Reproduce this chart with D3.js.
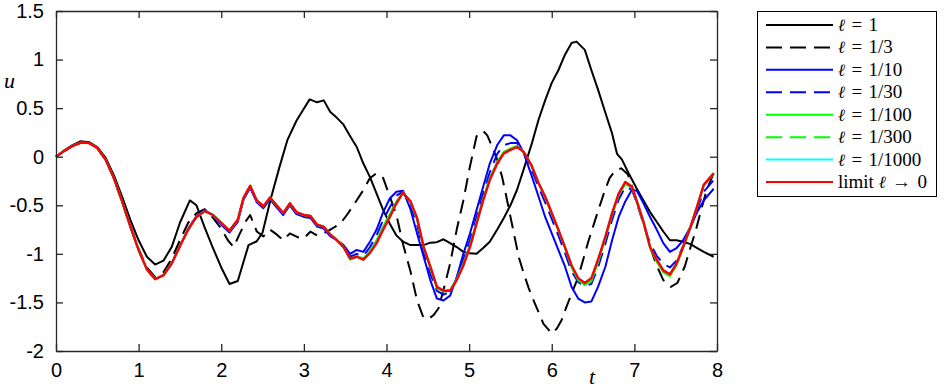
<!DOCTYPE html>
<html>
<head>
<meta charset="utf-8">
<script src="https://cdn.jsdelivr.net/npm/d3@7"></script>
<style>
  html, body { margin: 0; padding: 0; background: #fff; }
  svg { display: block; }
  .tick text { font-family: "Liberation Sans", Arial, Helvetica, sans-serif; font-size: 20px; fill: #000; }
  .legend text { font-family: "Liberation Serif", "DejaVu Serif", serif; font-size: 19px; }
</style>
</head>
<body>
<svg id="chart" width="945" height="388"></svg>
<script>
// time nodes for the l = 1 curve
var tL1 = [0,0.1,0.2,0.3,0.4,0.5,0.6,0.7,0.8,0.9,1.0,1.1,1.2,1.3,1.4,1.5,1.62,1.7,1.8,1.9,
  2.0,2.1,2.2,2.33,2.43,2.5,2.6,2.7,2.8,2.91,2.99,3.07,3.16,3.24,3.32,3.4,3.48,3.56,3.64,3.72,3.8,3.88,3.96,
  4.04,4.12,4.2,4.29,4.37,4.45,4.53,4.61,4.69,4.77,4.85,4.93,5.01,5.09,5.17,5.25,5.34,5.42,5.5,5.58,5.66,5.76,5.84,5.92,
  6.0,6.08,6.16,6.24,6.3,6.4,6.48,6.56,6.65,6.73,6.79,6.85,6.93,7.03,7.11,7.19,7.27,7.35,7.43,7.51,7.59,7.68,7.76,7.84,7.96];
var uL1 = [0,0.065,0.12,0.16,0.15,0.1,-0.01,-0.19,-0.41,-0.65,-0.86,-1.03,-1.11,-1.07,-0.93,-0.68,-0.45,-0.5,-0.73,-0.94,
  -1.14,-1.31,-1.28,-0.91,-0.87,-0.78,-0.43,-0.12,0.17,0.37,0.48,0.59,0.56,0.58,0.46,0.4,0.33,0.21,0.1,-0.07,-0.21,-0.38,-0.55,
  -0.69,-0.81,-0.875,-0.91,-0.91,-0.91,-0.885,-0.88,-0.85,-0.89,-0.93,-0.98,-0.995,-1.0,-0.94,-0.875,-0.75,-0.63,-0.5,-0.34,-0.13,0.14,0.38,0.58,
  0.76,0.89,1.05,1.17,1.185,1.1,0.89,0.69,0.45,0.24,0.03,-0.03,-0.17,-0.33,-0.45,-0.57,-0.67,-0.77,-0.86,-0.86,-0.875,-0.9,-0.94,-0.98,-1.03];

// time nodes for the l = 1/3 curve
var tL3 = [0,0.1,0.2,0.3,0.4,0.5,0.6,0.7,0.8,0.9,1.0,1.1,1.2,1.3,1.4,1.5,1.6,1.7,1.8,1.9,
  2.0,2.08,2.15,2.22,2.3,2.35,2.43,2.51,2.59,2.67,2.75,2.83,2.93,
  3.0,3.08,3.16,3.24,3.32,3.44,3.52,3.6,3.7,3.8,3.88,3.96,
  4.04,4.12,4.2,4.29,4.37,4.44,4.5,4.57,4.63,4.69,4.77,4.85,4.93,
  5.01,5.09,5.17,5.22,5.28,5.34,5.4,5.46,5.52,5.6,5.66,5.72,5.8,5.9,
  6.0,6.06,6.12,6.18,6.24,6.32,6.38,6.44,6.5,6.56,6.63,6.7,6.77,6.84,6.92,
  7.0,7.09,7.19,7.27,7.35,7.44,7.52,7.61,7.68,7.74,7.82,7.88,7.96];
var uL3 = [0,0.06,0.11,0.145,0.14,0.09,-0.03,-0.22,-0.46,-0.71,-0.95,-1.14,-1.24,-1.19,-1.05,-0.86,-0.68,-0.58,-0.54,-0.63,
  -0.74,-0.86,-0.93,-0.8,-0.66,-0.6,-0.77,-0.82,-0.75,-0.8,-0.86,-0.79,-0.83,
  -0.84,-0.77,-0.81,-0.79,-0.75,-0.69,-0.6,-0.5,-0.37,-0.22,-0.17,-0.22,
  -0.41,-0.6,-0.9,-1.18,-1.48,-1.64,-1.675,-1.63,-1.56,-1.37,-1.1,-0.75,-0.45,
  -0.1,0.21,0.265,0.22,0.1,-0.03,-0.21,-0.45,-0.7,-1.03,-1.2,-1.35,-1.52,-1.72,
  -1.82,-1.77,-1.68,-1.54,-1.41,-1.24,-1.06,-0.88,-0.72,-0.56,-0.38,-0.22,-0.14,-0.12,-0.18,
  -0.38,-0.62,-0.93,-1.12,-1.27,-1.34,-1.3,-1.13,-0.93,-0.77,-0.51,-0.33,-0.17];

// shared time nodes for the small-l curves and the limit
var tFine = [0,0.1,0.2,0.3,0.4,0.5,0.6,0.7,0.8,0.9,
  1.0,1.1,1.2,1.3,1.4,1.5,1.6,1.7,1.8,1.9,
  2.0,2.1,2.2,2.27,2.35,2.43,2.51,2.59,2.67,2.75,2.83,2.91,
  3.0,3.08,3.16,3.24,3.32,3.4,3.48,3.56,3.64,3.72,3.8,3.88,3.96,
  4.04,4.12,4.2,4.29,4.37,4.45,4.53,4.61,4.69,4.77,4.85,4.93,
  5.01,5.09,5.17,5.25,5.34,5.42,5.5,5.58,5.66,5.75,5.84,5.92,
  6.0,6.08,6.16,6.24,6.32,6.4,6.48,6.56,6.65,6.73,6.81,6.89,6.97,
  7.03,7.11,7.19,7.27,7.35,7.43,7.51,7.59,7.68,7.76,7.84,7.96];

var uL10 = [0,0.06,0.11,0.145,0.14,0.09,-0.03,-0.22,-0.46,-0.72,
  -0.96,-1.16,-1.26,-1.22,-1.1,-0.92,-0.74,-0.61,-0.55,-0.6,
  -0.7,-0.78,-0.67,-0.44,-0.32,-0.47,-0.53,-0.44,-0.52,-0.6,-0.5,-0.59,
  -0.62,-0.63,-0.72,-0.74,-0.82,-0.86,-0.91,-1.0,-0.96,-0.98,-0.875,-0.75,-0.57,
  -0.43,-0.36,-0.35,-0.54,-0.79,-1.03,-1.27,-1.46,-1.48,-1.43,-1.24,-1.0,
  -0.79,-0.55,-0.31,-0.07,0.12,0.22,0.22,0.17,0.04,-0.18,-0.41,-0.62,
  -0.79,-0.96,-1.13,-1.34,-1.46,-1.5,-1.49,-1.34,-1.13,-0.86,-0.62,-0.46,-0.34,
  -0.35,-0.48,-0.62,-0.75,-0.89,-0.98,-0.94,-0.86,-0.72,-0.57,-0.45,-0.33];

var uL30 = [0,0.06,0.11,0.145,0.14,0.09,-0.03,-0.22,-0.46,-0.72,
  -0.96,-1.16,-1.26,-1.22,-1.1,-0.92,-0.75,-0.62,-0.56,-0.6,
  -0.69,-0.77,-0.66,-0.43,-0.31,-0.46,-0.52,-0.43,-0.51,-0.59,-0.49,-0.58,
  -0.61,-0.62,-0.71,-0.73,-0.81,-0.86,-0.92,-1.03,-1.0,-1.02,-0.93,-0.81,-0.65,
  -0.52,-0.4,-0.36,-0.5,-0.7,-0.98,-1.2,-1.38,-1.42,-1.39,-1.25,-1.06,
  -0.86,-0.62,-0.38,-0.16,0.03,0.12,0.14,0.14,0.05,-0.12,-0.31,-0.47,
  -0.64,-0.81,-0.99,-1.18,-1.29,-1.33,-1.31,-1.14,-0.89,-0.65,-0.44,-0.31,-0.34,
  -0.48,-0.69,-0.89,-1.02,-1.1,-1.14,-1.07,-0.92,-0.73,-0.54,-0.36,-0.24];

var uL100 = [0,0.06,0.11,0.145,0.14,0.09,-0.03,-0.22,-0.46,-0.72,
  -0.96,-1.16,-1.26,-1.22,-1.1,-0.92,-0.75,-0.62,-0.56,-0.6,
  -0.68,-0.76,-0.65,-0.42,-0.3,-0.45,-0.51,-0.42,-0.5,-0.58,-0.48,-0.57,
  -0.6,-0.61,-0.7,-0.72,-0.8,-0.86,-0.93,-1.05,-1.02,-1.05,-0.97,-0.86,-0.72,
  -0.59,-0.46,-0.37,-0.47,-0.65,-0.94,-1.15,-1.35,-1.39,-1.37,-1.26,-1.1,
  -0.91,-0.67,-0.43,-0.22,-0.05,0.05,0.085,0.11,0.05,-0.08,-0.27,-0.42,
  -0.59,-0.76,-0.94,-1.14,-1.27,-1.32,-1.28,-1.09,-0.84,-0.6,-0.4,-0.28,-0.32,
  -0.47,-0.68,-0.94,-1.08,-1.19,-1.23,-1.12,-0.94,-0.72,-0.51,-0.29,-0.17];

var uL300 = [0,0.06,0.11,0.145,0.14,0.09,-0.03,-0.22,-0.46,-0.72,
  -0.96,-1.16,-1.26,-1.22,-1.1,-0.92,-0.75,-0.62,-0.56,-0.6,
  -0.68,-0.76,-0.65,-0.42,-0.3,-0.45,-0.51,-0.42,-0.5,-0.58,-0.48,-0.57,
  -0.6,-0.61,-0.7,-0.72,-0.8,-0.86,-0.93,-1.06,-1.03,-1.06,-0.98,-0.88,-0.74,
  -0.61,-0.47,-0.37,-0.46,-0.64,-0.93,-1.14,-1.34,-1.38,-1.38,-1.27,-1.11,
  -0.92,-0.68,-0.44,-0.23,-0.06,0.04,0.08,0.1,0.05,-0.08,-0.27,-0.41,
  -0.58,-0.75,-0.93,-1.13,-1.26,-1.31,-1.26,-1.07,-0.83,-0.59,-0.39,-0.27,-0.31,
  -0.46,-0.67,-0.93,-1.07,-1.18,-1.22,-1.11,-0.93,-0.72,-0.51,-0.29,-0.17];

var uL1000 = [0,0.06,0.11,0.145,0.14,0.09,-0.03,-0.22,-0.46,-0.72,
  -0.96,-1.16,-1.26,-1.22,-1.1,-0.92,-0.75,-0.62,-0.56,-0.6,
  -0.68,-0.76,-0.65,-0.42,-0.3,-0.45,-0.51,-0.42,-0.5,-0.58,-0.48,-0.57,
  -0.6,-0.61,-0.7,-0.72,-0.8,-0.86,-0.93,-1.05,-1.03,-1.06,-0.99,-0.89,-0.75,
  -0.62,-0.48,-0.37,-0.46,-0.63,-0.93,-1.13,-1.34,-1.38,-1.38,-1.27,-1.12,
  -0.93,-0.69,-0.45,-0.24,-0.07,0.035,0.07,0.1,0.05,-0.08,-0.27,-0.41,
  -0.58,-0.75,-0.93,-1.12,-1.25,-1.3,-1.25,-1.06,-0.82,-0.58,-0.38,-0.26,-0.31,
  -0.46,-0.67,-0.93,-1.06,-1.17,-1.21,-1.1,-0.93,-0.72,-0.51,-0.29,-0.17];

var uLimit = [0,0.06,0.11,0.145,0.14,0.09,-0.03,-0.22,-0.46,-0.72,
  -0.96,-1.16,-1.26,-1.22,-1.1,-0.92,-0.75,-0.62,-0.56,-0.6,
  -0.68,-0.76,-0.65,-0.42,-0.3,-0.45,-0.51,-0.42,-0.5,-0.58,-0.48,-0.57,
  -0.6,-0.61,-0.7,-0.72,-0.8,-0.86,-0.93,-1.05,-1.03,-1.06,-0.99,-0.89,-0.75,
  -0.62,-0.48,-0.37,-0.46,-0.63,-0.93,-1.13,-1.34,-1.38,-1.38,-1.27,-1.12,
  -0.93,-0.69,-0.45,-0.24,-0.07,0.035,0.07,0.1,0.05,-0.08,-0.27,-0.41,
  -0.58,-0.75,-0.93,-1.12,-1.25,-1.3,-1.25,-1.06,-0.82,-0.58,-0.38,-0.26,-0.31,
  -0.46,-0.67,-0.93,-1.06,-1.17,-1.21,-1.1,-0.93,-0.72,-0.51,-0.29,-0.17];

var xTicks = [0,1,2,3,4,5,6,7,8];
var yTicks = [-2,-1.5,-1,-0.5,0,0.5,1,1.5];
// legend labels: [prefix, ell, rest]
var legendLabels = [
  ["", "\u2113", "\u2004=\u20041"],
  ["", "\u2113", "\u2004=\u20041/3"],
  ["", "\u2113", "\u2004=\u20041/10"],
  ["", "\u2113", "\u2004=\u20041/30"],
  ["", "\u2113", "\u2004=\u20041/100"],
  ["", "\u2113", "\u2004=\u20041/300"],
  ["", "\u2113", "\u2004=\u20041/1000"],
  ["limit ", "\u2113", "\u2004\u2192\u20040"]
];

var series = [
  {t: tL1, u: uL1, color: "#000000", dash: null, w: 2},
  {t: tL3, u: uL3, color: "#000000", dash: "14,8", w: 2},
  {t: tFine, u: uL10, color: "#0000ff", dash: null, w: 2},
  {t: tFine, u: uL30, color: "#0000ff", dash: "14,8", w: 2},
  {t: tFine, u: uL100, color: "#00ff00", dash: null, w: 2},
  {t: tFine, u: uL300, color: "#00ff00", dash: "14,8", w: 2},
  {t: tFine, u: uL1000, color: "#00ffff", dash: null, w: 2},
  {t: tFine, u: uLimit, color: "#ff0000", dash: null, w: 2.4}
];

var svg = d3.select("#chart");
var plotL = 56, plotR = 717, plotT = 11, plotB = 351;

var x = d3.scaleLinear().domain([0, 8]).range([plotL, plotR]);
var y = d3.scaleLinear().domain([-2, 1.5]).range([plotB, plotT]);

var line = d3.line()
  .x(function (d) { return x(d[0]); })
  .y(function (d) { return y(d[1]); });

var plot = svg.append("g");
series.forEach(function (s) {
  var pts = s.t.map(function (t, i) { return [t, s.u[i]]; })
    .filter(function (d) { return d[1] !== undefined; });
  var p = plot.append("path")
    .datum(pts)
    .attr("d", line)
    .attr("fill", "none")
    .attr("stroke", s.color)
    .attr("stroke-width", s.w)
    .attr("stroke-linejoin", "round");
  if (s.dash) p.attr("stroke-dasharray", s.dash);
});

// axes, ticks pointing inward on all four sides
var axisColor = "#262626";
svg.append("g")
  .attr("transform", "translate(0," + plotB + ")")
  .call(d3.axisBottom(x).tickValues(xTicks).tickFormat(d3.format("d")).tickSizeInner(-7).tickSizeOuter(0).tickPadding(12));
svg.append("g")
  .attr("transform", "translate(0," + plotT + ")")
  .call(d3.axisTop(x).tickValues(xTicks).tickFormat("").tickSizeInner(-7).tickSizeOuter(0));
svg.append("g")
  .attr("transform", "translate(" + plotL + ",0)")
  .call(d3.axisLeft(y).tickValues(yTicks).tickFormat(function (d) { return String(d); }).tickSizeInner(-7).tickSizeOuter(0).tickPadding(12));
svg.append("g")
  .attr("transform", "translate(" + plotR + ",0)")
  .call(d3.axisRight(y).tickValues(yTicks).tickFormat("").tickSizeInner(-7).tickSizeOuter(0));

svg.selectAll(".domain").attr("stroke", axisColor).attr("stroke-width", 1.3);
svg.selectAll(".tick line").attr("stroke", axisColor).attr("stroke-width", 1.3);

// axis labels
svg.append("text")
  .attr("x", 4).attr("y", 88)
  .style("font-family", "'Liberation Serif', 'DejaVu Serif', serif")
  .style("font-style", "italic")
  .style("font-size", "22px")
  .text("u");
svg.append("text")
  .attr("x", 589).attr("y", 384)
  .style("font-family", "'Liberation Serif', 'DejaVu Serif', serif")
  .style("font-style", "italic")
  .style("font-size", "22px")
  .text("t");

// legend
var lg = svg.append("g").attr("class", "legend");
lg.append("rect")
  .attr("x", 757.5).attr("y", 11.5)
  .attr("width", 179).attr("height", 185)
  .attr("fill", "#fff")
  .attr("stroke", "#000")
  .attr("stroke-width", 1);
var rowY = d3.scaleLinear().domain([0, 7]).range([25, 182]);
series.forEach(function (s, i) {
  var ry = rowY(i);
  var l = lg.append("line")
    .attr("x1", 766).attr("x2", 833)
    .attr("y1", ry).attr("y2", ry)
    .attr("stroke", s.color)
    .attr("stroke-width", 2);
  if (s.dash) l.attr("stroke-dasharray", "16,8");
  var txt = lg.append("text")
    .attr("x", 838).attr("y", ry + 6);
  var parts = legendLabels[i];
  if (parts[0]) txt.append("tspan").text(parts[0]);
  txt.append("tspan").style("font-family", "'DejaVu Serif', serif").style("font-style", "italic")
    .style("font-size", "17px").text(parts[1]);
  txt.append("tspan").text(parts[2]);
});
</script>
</body>
</html>
